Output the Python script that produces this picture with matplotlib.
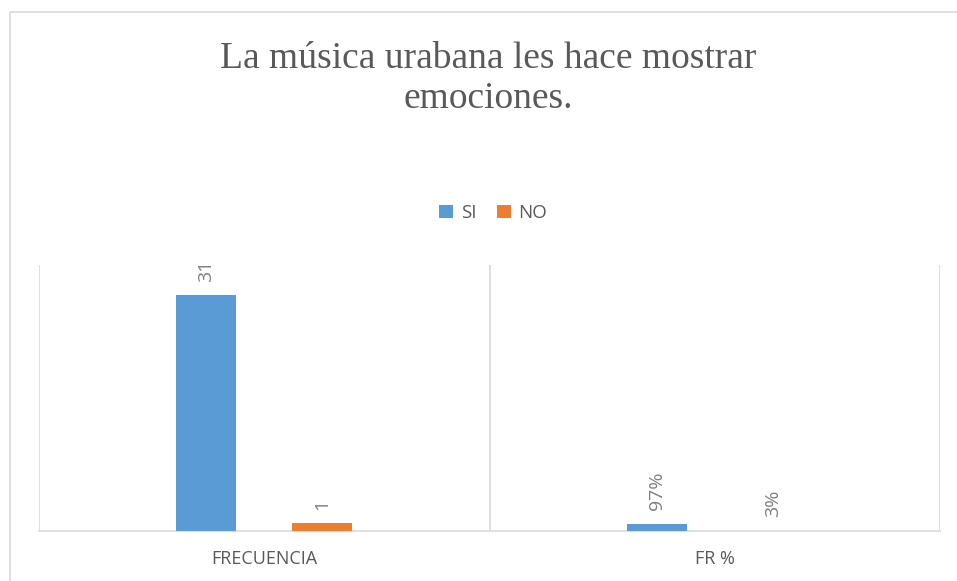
import matplotlib
matplotlib.use("Agg")
import matplotlib.pyplot as plt
from matplotlib.patches import Rectangle
import numpy as np

categories = ["FRECUENCIA", "FR %"]
series_names = ["SI", "NO"]
si_values = [31, 0.97]
no_values = [1, 0.03]
si_labels = ["31", "97%"]
no_labels = ["1", "3%"]
title = "La música urabana les hace mostrar\nemociones."

blue = "#5B9BD5"
orange = "#ED7D31"
text_grey = "#595959"
grid_grey = "#D9D9D9"

W, H = 957, 581
fig = plt.figure(figsize=(W / 100, H / 100), dpi=100)
fig.patch.set_facecolor("white")

# outer chart border
fig.add_artist(Rectangle((9.5 / W, -0.05), 1.2, (H - 12.5) / H + 0.05,
                         transform=fig.transFigure, fill=False,
                         edgecolor=grid_grey, linewidth=1.2))

left, right = 39 / W, 940 / W
bottom, top = (H - 531) / H, (H - 265) / H
ax = fig.add_axes([left, bottom, right - left, top - bottom])

x = np.arange(len(categories))
bw = 0.133
off = 0.129
b1 = ax.bar(x - off, si_values, bw, color=blue, label=series_names[0], zorder=3)
b2 = ax.bar(x + off, no_values, bw, color=orange, label=series_names[1], zorder=3)

for rects, labels in ((b1, si_labels), (b2, no_labels)):
    for r, lab in zip(rects, labels):
        ax.annotate(lab, (r.get_x() + r.get_width() / 2, r.get_height()),
                    xytext=(0, 10), textcoords="offset points",
                    rotation=90, ha="center", va="bottom",
                    fontsize=14, color="#7F7F7F", family="Open Sans")

ax.set_xlim(-0.5, 1.5)
ax.set_ylim(0, 35)
ax.set_yticks([])
ax.set_xticks(x)
ax.set_xticklabels(categories, fontsize=13, color=text_grey, family="Open Sans")
ax.tick_params(axis="x", length=0, pad=14)
for xv in [-0.5, 0.5, 1.5]:
    ax.axvline(xv, color=grid_grey, linewidth=1.2, zorder=1)
for s in ["top", "left", "right"]:
    ax.spines[s].set_visible(False)
ax.spines["bottom"].set_color(grid_grey)
ax.spines["bottom"].set_linewidth(1.2)

fig.text(488 / W, 1 - 79 / H, title, ha="center", va="center",
         fontsize=27, color=text_grey, family="Liberation Serif",
         linespacing=1.2)

leg = fig.legend(handles=[b1, b2], labels=series_names, loc="center",
                 bbox_to_anchor=(493 / W, 1 - 213 / H), ncol=2, frameon=False,
                 handlelength=0.75, handleheight=0.75,
                 handletextpad=0.4, columnspacing=1.1,
                 prop={"family": "Open Sans", "size": 13.5})
for t in leg.get_texts():
    t.set_color(text_grey)

fig.savefig("out.png", dpi=100, facecolor="white")
